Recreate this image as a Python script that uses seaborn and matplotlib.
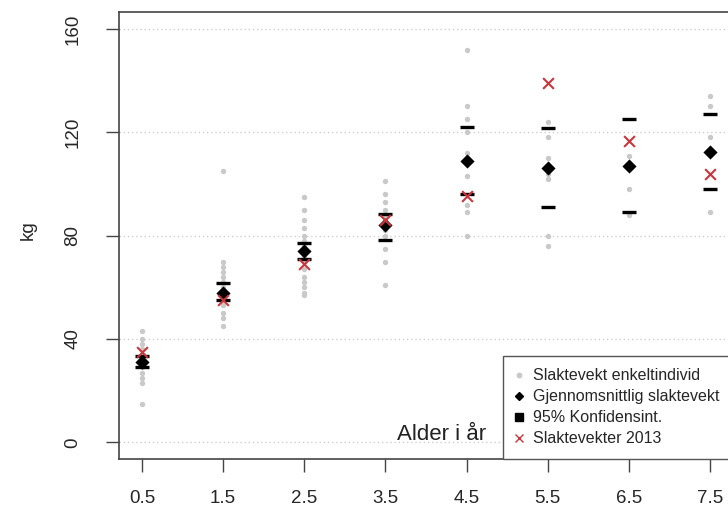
import matplotlib
matplotlib.use("Agg")
import matplotlib.pyplot as plt
from matplotlib.lines import Line2D
import seaborn as sns
import pandas as pd

# ---- data ----
ages = [0.5, 1.5, 2.5, 3.5, 4.5, 5.5, 6.5, 7.5]
tick_labels = ["0.5", "1.5", "2.5", "3.5", "4.5", "5.5", "6.5", "7.5"]

ind_05 = [43, 40, 38, 36, 34, 32, 30, 29, 27, 25, 23, 15]
ind_15 = [105, 70, 68, 66, 64, 62, 60, 58, 56, 53, 50, 48, 45]
ind_25 = [95, 90, 86, 83, 80, 78, 76, 74, 72, 70, 67, 64, 62, 60, 58, 57]
ind_35 = [101, 96, 93, 90, 88, 86, 84, 82, 80, 75, 70, 61]
ind_45 = [152, 130, 125, 120, 112, 103, 92, 89, 80]
ind_55 = [124, 118, 110, 104, 102, 80, 76]
ind_65 = [111, 106, 98, 88]
ind_75 = [134, 130, 118, 112, 89]

mean_kg = [31, 58, 74, 84, 109, 106, 107, 112.5]
ci_low = [29, 55, 71, 78.5, 96, 91, 89, 98]
ci_high = [33.5, 61.5, 77, 88.5, 122, 121.5, 125, 127]
kg_2013 = [35, 55, 69, 86, 95.5, 139, 116.5, 104]

y_ticks = [0, 40, 80, 120, 160]

legend_labels = ["Slaktevekt enkeltindivid", "Gjennomsnittlig slaktevekt",
                 "95% Konfidensint.", "Slaktevekter 2013"]

# ---- tables ----
groups = [ind_05, ind_15, ind_25, ind_35, ind_45, ind_55, ind_65, ind_75]
ind_df = pd.DataFrame({
    "alder": [a for a, g in zip(ages, groups) for _ in g],
    "kg": [v for g in groups for v in g],
})
summ = pd.DataFrame({"alder": ages, "mean": mean_kg, "lo": ci_low,
                     "hi": ci_high, "y2013": kg_2013})
ci_df = pd.DataFrame({"alder": ages + ages, "kg": ci_low + ci_high})

# ---- style ----
sns.set_style("white")
plt.rcParams["font.family"] = ["Liberation Sans", "DejaVu Sans"]

fig = plt.figure(figsize=(7.28, 5.13), dpi=100)
ax = fig.add_axes([119.3 / 728, (513 - 459) / 513, 613.4 / 728, 446.7 / 513])

gray = "#c9c9c9"
red = "#c9353c"

sns.scatterplot(data=ind_df, x="alder", y="kg", ax=ax, color=gray, s=15,
                linewidth=0, zorder=2, legend=False)
sns.scatterplot(data=ci_df, x="alder", y="kg", ax=ax, marker="_", s=100,
                color="black", linewidth=2.4, zorder=3, legend=False)
sns.scatterplot(data=summ, x="alder", y="mean", ax=ax, marker="D", s=52,
                color="black", linewidth=0, zorder=4, legend=False)
sns.scatterplot(data=summ, x="alder", y="y2013", ax=ax, marker="x", s=60,
                color=red, linewidth=1.5, zorder=5, legend=False)

ax.set_xlim(0.22, 7.78)
ax.set_ylim(-6.4, 166.4)
ax.set_xticks(ages)
ax.set_xticklabels(tick_labels)
ax.set_yticks(y_ticks)
ax.set_yticklabels([str(v) for v in y_ticks])
ax.tick_params(axis="x", length=9.4, width=1, color="#444444", pad=13,
               labelsize=13.5, bottom=True)
ax.tick_params(axis="y", length=9.4, width=1, color="#444444", pad=18,
               labelsize=13.5, labelrotation=90, left=True)
for lab in ax.get_yticklabels():
    lab.set_va("center")

ax.set_xlabel("")
ax.set_ylabel("kg", fontsize=13.5)
ax.yaxis.set_label_coords(-0.135, 0.513)

for sp in ax.spines.values():
    sp.set_visible(True)
    sp.set_color("#444444")
    sp.set_linewidth(1.2)

ax.yaxis.grid(True, linestyle=(0, (1, 2)), color="#cfcfcf", linewidth=1)
ax.xaxis.grid(False)
ax.set_axisbelow(True)

ax.text(4.19, 0.9, "Alder i år", ha="center", va="baseline", fontsize=16,
        color="#222222")

handles = [
    Line2D([], [], linestyle="none", marker="o", markersize=3.2,
           markerfacecolor=gray, markeredgecolor=gray),
    Line2D([], [], linestyle="none", marker="D", markersize=4.2,
           markerfacecolor="black", markeredgecolor="black"),
    Line2D([], [], linestyle="none", marker="s", markersize=5.5,
           markerfacecolor="black", markeredgecolor="black"),
    Line2D([], [], linestyle="none", marker="x", markersize=6,
           markeredgewidth=1.0, color=red),
]
leg = ax.legend(handles, legend_labels, loc="lower right",
                bbox_to_anchor=(1.0, 0.0), borderaxespad=0, fontsize=11.5,
                frameon=True, fancybox=False, handlelength=0.35,
                handletextpad=0.75, borderpad=0.8, labelspacing=0.37)
leg.get_frame().set_edgecolor("#555555")
leg.get_frame().set_linewidth(1.0)
leg.get_frame().set_alpha(1)

fig.savefig("out.png", dpi=100)
